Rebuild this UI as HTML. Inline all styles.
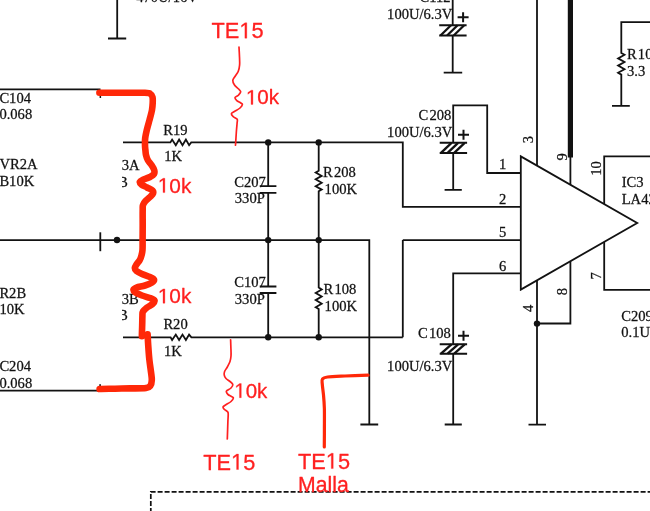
<!DOCTYPE html>
<html><head><meta charset="utf-8"><style>
html,body{margin:0;padding:0;background:#fff;width:650px;height:511px;overflow:hidden}
svg{display:block;will-change:transform}
</style></head><body>
<svg width="650" height="511" viewBox="0 0 650 511">
<rect width="650" height="511" fill="#fff"/>
<g fill="none" stroke="#121212" stroke-width="1.8" stroke-linecap="butt" stroke-linejoin="miter">
<path d="M117.2,-2 V38.5 M108,38.5 H126.2" />
<path d="M-2,89.3 H100.5" />
<path d="M123,142.4 H170.4 L172.1,139.6 L175.8,145.2 L179.1,139.6 L182.5,145.2 L185.9,139.6 L189.1,145.2 L191.2,142.4 H402.8 V206.8 H520.8" />
<path d="M-2,240.1 H369.3 V424.5 M360.4,424.5 H378.2" />
<path d="M402.8,240.1 H520.8 M402.8,240.1 V337.3" />
<rect x="99.6" y="95.5" width="1.5" height="2.5" fill="#161616" stroke="none"/>
<rect x="99.3" y="384.2" width="1.6" height="2.2" fill="#161616" stroke="none"/>
<path d="M100.3,232.3 V251.2" />
<path d="M123,337.3 H170.6 L172.1,340.0 L175.8,334.6 L179.1,340.0 L182.5,334.6 L185.9,340.0 L189.1,334.6 L191.4,337.3 H402.8" />
<path d="M-2,390.7 H100" />
<path d="M268.2,142.3 V186.2 M259.7,186.2 H276.4 M259.7,192.8 H276.4 M268.2,192.8 V286.5 M259.7,286.5 H276.4 M259.7,293 H276.4 M268.2,293 V337.2" />
<path d="M318.7,142.3 V170.8 L315.7,172.5 L321.7,175.9 L315.7,179.3 L321.7,182.8 L315.7,186.2 L321.7,189.6 L318.7,191.3 V287.6 L321.7,289.4 L315.7,293.0 L321.7,296.6 L315.7,300.1 L321.7,303.7 L315.7,307.3 L318.7,309.1 V337.2" />
<circle cx="268.2" cy="142.4" r="3.2" fill="#121212" stroke="none"/>
<circle cx="318.7" cy="142.4" r="3.2" fill="#121212" stroke="none"/>
<circle cx="268.2" cy="240.1" r="3.2" fill="#121212" stroke="none"/>
<circle cx="318.7" cy="240.1" r="3.2" fill="#121212" stroke="none"/>
<circle cx="268.2" cy="337.3" r="3.2" fill="#121212" stroke="none"/>
<circle cx="318.7" cy="337.3" r="3.2" fill="#121212" stroke="none"/>
<circle cx="117" cy="240" r="3.2" fill="#121212" stroke="none"/>
<circle cx="537.0" cy="323.6" r="3.2" fill="#121212" stroke="none"/>
<path d="M452.7,-2 V25.3 M452.7,35.5 V72.6 M443.7,72.6 H462.2" />
<path d="M439.2,25.3 H466.6 M439.2,35.5 H466.6" stroke-width="2"/>
<path d="M440.5,35.5 L451.0,25.3" stroke-width="2.3"/>
<path d="M447.1,35.5 L457.6,25.3" stroke-width="2.3"/>
<path d="M453.7,35.5 L464.2,25.3" stroke-width="2.3"/>
<path d="M457.6,17.3 H468.6 M463.1,12.3 V22.3" stroke-width="2"/>
<path d="M453.2,142.8 V105.4 H487.2 V173 H520.8 M453.2,152.9 V189.8 M444.6,189.8 H461.8" />
<path d="M439.7,142.8 H467.1 M439.7,152.9 H467.1" stroke-width="2"/>
<path d="M441.0,152.9 L451.5,142.8" stroke-width="2.3"/>
<path d="M447.6,152.9 L458.1,142.8" stroke-width="2.3"/>
<path d="M454.2,152.9 L464.7,142.8" stroke-width="2.3"/>
<path d="M458.0,134.8 H469.0 M463.5,129.8 V139.8" stroke-width="2"/>
<path d="M520.8,273.4 H453.2 V344.3 M453.2,353.7 V424.5 M444.7,424.5 H461.8" />
<path d="M439.7,344.3 H467.1 M439.7,353.7 H467.1" stroke-width="2"/>
<path d="M441.0,353.7 L451.5,344.3" stroke-width="2.3"/>
<path d="M447.6,353.7 L458.1,344.3" stroke-width="2.3"/>
<path d="M454.2,353.7 L464.7,344.3" stroke-width="2.3"/>
<path d="M458.0,335.7 H469.0 M463.5,330.7 V340.7" stroke-width="2"/>
<path d="M520.8,156.4 L637.2,223.0 L520.8,289.6 Z" stroke-linejoin="miter"/>
<path d="M537.0,-2 V165.7" />
<path d="M570.4,157 V184.8" />
<path d="M570.4,-2 V157.5" stroke-width="5.2"/>
<path d="M650,156.4 H604.2 V204.1" />
<path d="M537.0,280.3 V424.6 M528.5,424.6 H546 M537.0,323.5 H570.4 V261.2" />
<path d="M604.2,241.9 V289.8 H652" />
<path d="M652,22.1 H621.3 V53 L624.5,54.8 L618.1,58.4 L624.5,62.0 L618.1,65.6 L624.5,69.2 L618.1,72.8 L621.3,74.6 V106 M612,105.8 H629.8" />
<path d="M150.8,513 V491.8 H652" stroke-dasharray="5,2" stroke-width="1.7"/>
</g>
<defs><clipPath id="clipL"><rect x="122.0" y="0" width="100" height="511"/></clipPath></defs>
<g fill="#121212" stroke="#121212" stroke-width="0.25" font-family="Liberation Serif, serif">
<text transform="translate(136.2 2.1) scale(1.02 1)" text-anchor="start" font-size="14.3">470U/16V</text>
<text transform="translate(-0.6 102.9) scale(1.02 1)" text-anchor="start" font-size="14.3">C104</text>
<text transform="translate(-0.6 119.3) scale(1.02 1)" text-anchor="start" font-size="14.3">0.068</text>
<text transform="translate(163.3 134.6) scale(1.02 1)" text-anchor="start" font-size="14.3">R19</text>
<text transform="translate(164.2 160.9) scale(1.02 1)" text-anchor="start" font-size="14.3">1K</text>
<text transform="translate(-0.6 169.4) scale(1.02 1)" text-anchor="start" font-size="14.3">VR2A</text>
<text transform="translate(-0.6 185.9) scale(1.02 1)" text-anchor="start" font-size="14.3">B10K</text>
<text transform="translate(121.8 169.5) scale(1.02 1)" text-anchor="start" font-size="14.3">3A</text>
<g clip-path="url(#clipL)"><text transform="translate(118.0 186.5) scale(1.02 1)" text-anchor="start" font-size="14.5">B</text></g>
<text transform="translate(-0.6 297.5) scale(1.02 1)" text-anchor="start" font-size="14.3">R2B</text>
<text transform="translate(-0.6 313.5) scale(1.02 1)" text-anchor="start" font-size="14.3">10K</text>
<text transform="translate(121.8 304.0) scale(1.02 1)" text-anchor="start" font-size="14.3">3B</text>
<g clip-path="url(#clipL)"><text transform="translate(118.0 320.4) scale(1.02 1)" text-anchor="start" font-size="14.5">B</text></g>
<text transform="translate(163.4 328.8) scale(1.02 1)" text-anchor="start" font-size="14.3">R20</text>
<text transform="translate(164 355.6) scale(1.02 1)" text-anchor="start" font-size="14.3">1K</text>
<text transform="translate(-0.6 371.0) scale(1.02 1)" text-anchor="start" font-size="14.3">C204</text>
<text transform="translate(-0.6 387.5) scale(1.02 1)" text-anchor="start" font-size="14.3">0.068</text>
<text transform="translate(234.3 186.7) scale(1.02 1)" text-anchor="start" font-size="14.3">C207</text>
<text transform="translate(234.8 203.3) scale(1.02 1)" text-anchor="start" font-size="14.3">330P</text>
<text transform="translate(234.3 287.0) scale(1.02 1)" text-anchor="start" font-size="14.3">C107</text>
<text transform="translate(234.8 303.6) scale(1.02 1)" text-anchor="start" font-size="14.3">330P</text>
<text transform="translate(323.1 177.0) scale(1.02 1)" text-anchor="start" font-size="14.3">R<tspan dx="1.1">208</tspan></text>
<text transform="translate(324.6 193.7) scale(1.02 1)" text-anchor="start" font-size="14.3">100K</text>
<text transform="translate(323.6 293.9) scale(1.02 1)" text-anchor="start" font-size="14.3">R<tspan dx="1.1">108</tspan></text>
<text transform="translate(324.6 310.5) scale(1.02 1)" text-anchor="start" font-size="14.3">100K</text>
<text transform="translate(450.6 1.8) scale(1.02 1)" text-anchor="end" font-size="14.3">C112</text>
<text transform="translate(452.3 18.5) scale(1.02 1)" text-anchor="end" font-size="14.3">100U/6.3V</text>
<text transform="translate(451.3 119.6) scale(1.02 1)" text-anchor="end" font-size="14.3">C<tspan dx="1.1">208</tspan></text>
<text transform="translate(452.3 137.4) scale(1.02 1)" text-anchor="end" font-size="14.3">100U/6.3V</text>
<text transform="translate(450.8 337.5) scale(1.02 1)" text-anchor="end" font-size="14.3">C<tspan dx="1.1">108</tspan></text>
<text transform="translate(452.3 371.0) scale(1.02 1)" text-anchor="end" font-size="14.3">100U/6.3V</text>
<text transform="translate(502.7 169.4) scale(1.02 1)" text-anchor="middle" font-size="14.3">1</text>
<text transform="translate(502.7 203.6) scale(1.02 1)" text-anchor="middle" font-size="14.3">2</text>
<text transform="translate(502.7 236.9) scale(1.02 1)" text-anchor="middle" font-size="14.3">5</text>
<text transform="translate(502.7 270.8) scale(1.02 1)" text-anchor="middle" font-size="14.3">6</text>
<text transform="translate(621.7 186.8) scale(1.02 1)" text-anchor="start" font-size="14.3">IC3</text>
<text transform="translate(621.7 203.5) scale(1.02 1)" text-anchor="start" font-size="14.3">LA42</text>
<text transform="translate(621.3 320.5) scale(1.02 1)" text-anchor="start" font-size="14.3">C209</text>
<text transform="translate(621.3 337.0) scale(1.02 1)" text-anchor="start" font-size="14.3">0.1U</text>
<text transform="translate(627 58.9) scale(1.02 1)" text-anchor="start" font-size="14.3">R<tspan dx="1.1">10</tspan></text>
<text transform="translate(627 75.8) scale(1.02 1)" text-anchor="start" font-size="14.3">3.3</text>
<text x="533.3" y="139.5" text-anchor="middle" font-size="14.5" transform="rotate(-90 533.3 139.5)">3</text>
<text x="567" y="156.8" text-anchor="middle" font-size="14.5" transform="rotate(-90 567 156.8)">9</text>
<text x="600.6" y="168.5" text-anchor="middle" font-size="14.5" transform="rotate(-90 600.6 168.5)">10</text>
<text x="533.3" y="308.3" text-anchor="middle" font-size="14.5" transform="rotate(-90 533.3 308.3)">4</text>
<text x="567" y="291.5" text-anchor="middle" font-size="14.5" transform="rotate(-90 567 291.5)">8</text>
<text x="600.6" y="275.8" text-anchor="middle" font-size="14.5" transform="rotate(-90 600.6 275.8)">7</text>
</g>
<g fill="none" stroke="#ff2808" stroke-linecap="round" stroke-linejoin="round">
<path d="M99.4,92.8 C102.8,92.8 112.4,92.7 120.0,92.7 C127.6,92.7 139.9,92.6 145.0,92.8 C150.1,93.0 149.1,93.1 150.3,93.8 C151.6,94.5 152.1,95.5 152.5,97.0 C152.9,98.5 152.8,100.8 152.7,103.0 C152.6,105.2 152.5,107.2 152.0,110.0 C151.5,112.8 150.4,116.7 149.5,120.0 C148.6,123.3 147.5,127.0 146.8,130.0 C146.1,133.0 145.5,135.5 145.2,138.0 C144.9,140.5 145.0,143.0 145.0,145.0 C145.0,147.0 145.2,148.3 145.4,150.0 C145.6,151.7 145.6,153.3 146.0,155.0 C146.4,156.7 146.9,158.3 147.8,160.0 C148.7,161.7 150.4,163.3 151.5,165.0 C152.6,166.7 153.8,168.5 154.2,170.0 C154.6,171.5 154.7,172.8 154.0,174.0 C153.3,175.2 151.8,176.0 150.0,177.0 C148.2,178.0 144.7,179.0 143.0,179.8 C141.3,180.6 140.1,181.2 139.8,182.0 C139.6,182.8 140.3,183.6 141.5,184.5 C142.7,185.4 145.2,186.5 147.0,187.5 C148.8,188.5 151.6,189.5 152.6,190.5 C153.6,191.5 153.4,192.4 153.0,193.5 C152.6,194.6 151.2,195.8 150.0,197.0 C148.8,198.2 146.7,199.7 145.5,201.0 C144.3,202.3 143.5,203.5 143.0,205.0 C142.5,206.5 142.8,206.7 142.7,210.0 C142.6,213.3 142.7,220.0 142.7,225.0 C142.7,230.0 142.6,235.8 142.6,240.0 C142.6,244.2 142.7,247.5 142.5,250.0 C142.3,252.5 142.0,253.3 141.6,255.0 C141.2,256.7 140.7,258.4 139.8,260.0 C139.0,261.6 137.3,263.2 136.5,264.5 C135.7,265.8 134.8,266.9 134.8,268.0 C134.8,269.1 135.3,270.0 136.5,271.0 C137.7,272.0 139.8,273.0 142.0,274.0 C144.2,275.0 148.0,276.1 150.0,277.0 C152.0,277.9 153.7,278.6 154.0,279.5 C154.3,280.4 153.5,281.5 152.0,282.5 C150.5,283.5 147.6,284.7 145.0,285.5 C142.4,286.3 138.4,286.8 136.5,287.5 C134.6,288.2 133.7,288.7 133.5,289.5 C133.3,290.3 134.1,291.5 135.5,292.5 C136.9,293.5 139.6,294.6 142.0,295.5 C144.4,296.4 147.9,297.2 150.0,298.0 C152.1,298.8 154.1,299.5 154.5,300.5 C154.9,301.5 153.8,302.8 152.5,304.0 C151.2,305.2 148.6,306.2 147.0,307.5 C145.4,308.8 143.8,310.1 143.0,311.5 C142.2,312.9 142.5,313.8 142.4,316.0 C142.3,318.2 142.3,321.6 142.2,325.0 C142.1,328.4 141.9,334.3 141.9,336.2" stroke-width="6.6"/>
<path d="M147.6,334.2 C147.7,336.0 147.9,340.7 148.2,345.0 C148.5,349.3 148.9,355.5 149.4,360.0 C149.9,364.5 150.6,368.7 151.0,372.0 C151.4,375.3 151.9,377.8 151.8,380.0 C151.7,382.2 151.5,384.2 150.5,385.5 C149.5,386.8 149.4,387.5 146.0,388.0 C142.6,388.5 135.2,388.3 130.0,388.4 C124.8,388.5 120.1,388.6 115.0,388.7 C109.9,388.8 102.2,388.9 99.6,389.0" stroke-width="6.6"/>
<path d="M239.0,47.2 C239.1,48.8 239.4,54.0 239.5,57.0 C239.6,60.0 239.8,62.6 239.6,65.0 C239.4,67.4 239.0,69.6 238.2,71.5 C237.4,73.4 235.9,75.0 235.0,76.5 C234.1,78.0 232.9,79.0 232.8,80.4 C232.7,81.8 233.5,83.6 234.5,85.0 C235.5,86.4 237.6,87.9 238.6,89.0 C239.6,90.1 240.7,90.8 240.7,91.8 C240.7,92.8 239.5,94.0 238.6,95.0 C237.7,96.0 235.3,96.7 235.0,97.6 C234.7,98.5 235.8,99.7 236.8,100.6 C237.8,101.5 239.9,102.3 240.8,103.0 C241.7,103.7 242.5,103.7 242.4,104.5 C242.3,105.3 241.3,106.8 240.0,108.0 C238.7,109.2 235.9,110.6 234.5,111.5 C233.1,112.4 231.6,112.8 231.4,113.6 C231.2,114.4 232.2,115.7 233.2,116.6 C234.2,117.5 236.5,118.1 237.2,119.2 C237.8,120.3 237.2,121.2 237.1,123.0 C237.0,124.8 236.8,126.3 236.5,130.0 C236.2,133.7 235.7,142.7 235.5,145.2" stroke-width="1.7" stroke="#ff2020"/>
<path d="M230.6,339.8 C230.7,341.2 230.8,345.3 230.9,348.0 C231.0,350.7 231.2,353.8 231.0,356.0 C230.8,358.2 230.6,359.7 230.0,361.5 C229.4,363.3 228.2,365.3 227.3,367.0 C226.4,368.7 225.1,370.2 224.6,371.5 C224.1,372.8 224.0,373.6 224.2,374.8 C224.4,376.0 225.0,377.4 226.0,378.5 C227.0,379.6 228.9,380.5 230.0,381.5 C231.1,382.5 232.6,383.4 232.8,384.5 C233.0,385.6 232.0,387.0 231.0,388.0 C230.0,389.0 227.8,389.9 227.0,390.5 C226.2,391.1 226.1,391.1 226.3,391.8 C226.5,392.5 227.1,393.7 228.0,394.5 C228.9,395.3 230.6,395.9 231.5,396.5 C232.4,397.1 233.5,397.2 233.4,398.0 C233.3,398.8 232.3,400.3 231.0,401.5 C229.7,402.7 226.8,404.1 225.5,405.0 C224.2,405.9 223.2,406.4 223.0,407.1 C222.8,407.9 223.7,408.7 224.5,409.5 C225.3,410.3 227.2,411.1 227.8,412.0 C228.4,412.9 228.2,413.5 228.2,415.0 C228.2,416.5 228.1,417.0 227.9,421.0 C227.8,425.0 227.4,436.0 227.3,439.0" stroke-width="1.7" stroke="#ff2020"/>
<path d="M368.1,375.2 C364.2,375.3 351.8,375.7 345.0,376.0 C338.2,376.3 331.4,376.5 327.6,377.0 C323.9,377.5 323.4,377.8 322.5,379.0 C321.6,380.2 322.1,381.7 322.3,384.4 C322.5,387.1 323.1,390.9 323.5,395.0 C323.9,399.1 324.2,403.2 324.4,409.0 C324.5,414.8 324.4,423.7 324.4,430.0 C324.4,436.3 324.3,444.2 324.3,447.0" stroke-width="3.2"/>
</g>
<g fill="#ff2020" stroke="#ff2020" stroke-width="0.3" stroke-linejoin="round" font-family="Liberation Sans, sans-serif">
<g transform="translate(211.55 38.2) scale(0.973 1)"><text font-size="22.4">TE&#8199;5</text><path d="M34.26,0.00 L36.24,0.00 L36.24,-15.41 L34.42,-15.41 L30.78,-12.91 L30.78,-11.05 L34.26,-13.53 Z"/></g>
<g transform="translate(245.9 104.4)"><text font-size="20.6">&#8199;0k</text><path d="M5.18,0.00 L7.00,0.00 L7.00,-14.17 L5.33,-14.17 L1.98,-11.87 L1.98,-10.16 L5.18,-12.44 Z"/></g>
<g transform="translate(157.8 192.6)"><text font-size="20.8">&#8199;0k</text><path d="M5.23,0.00 L7.07,0.00 L7.07,-14.31 L5.38,-14.31 L2.00,-11.98 L2.00,-10.26 L5.23,-12.56 Z"/></g>
<g transform="translate(157.8 303.2)"><text font-size="20.8">&#8199;0k</text><path d="M5.23,0.00 L7.07,0.00 L7.07,-14.31 L5.38,-14.31 L2.00,-11.98 L2.00,-10.26 L5.23,-12.56 Z"/></g>
<g transform="translate(234.3 397.7)"><text font-size="20.5">&#8199;0k</text><path d="M5.16,0.00 L6.97,0.00 L6.97,-14.10 L5.31,-14.10 L1.97,-11.81 L1.97,-10.11 L5.16,-12.38 Z"/></g>
<g transform="translate(203.35 469.5) scale(0.97 1)"><text font-size="22.4">TE&#8199;5</text><path d="M34.26,0.00 L36.24,0.00 L36.24,-15.41 L34.42,-15.41 L30.78,-12.91 L30.78,-11.05 L34.26,-13.53 Z"/></g>
<g transform="translate(298.05 468.6) scale(0.975 1)"><text font-size="22.3">TE&#8199;5</text><path d="M34.10,0.00 L36.07,0.00 L36.07,-15.34 L34.27,-15.34 L30.64,-12.85 L30.64,-11.00 L34.10,-13.47 Z"/></g>
<g transform="translate(298.1 492.2)"><text font-size="21.2">Malla</text></g>
</g>
</svg>
</body></html>
